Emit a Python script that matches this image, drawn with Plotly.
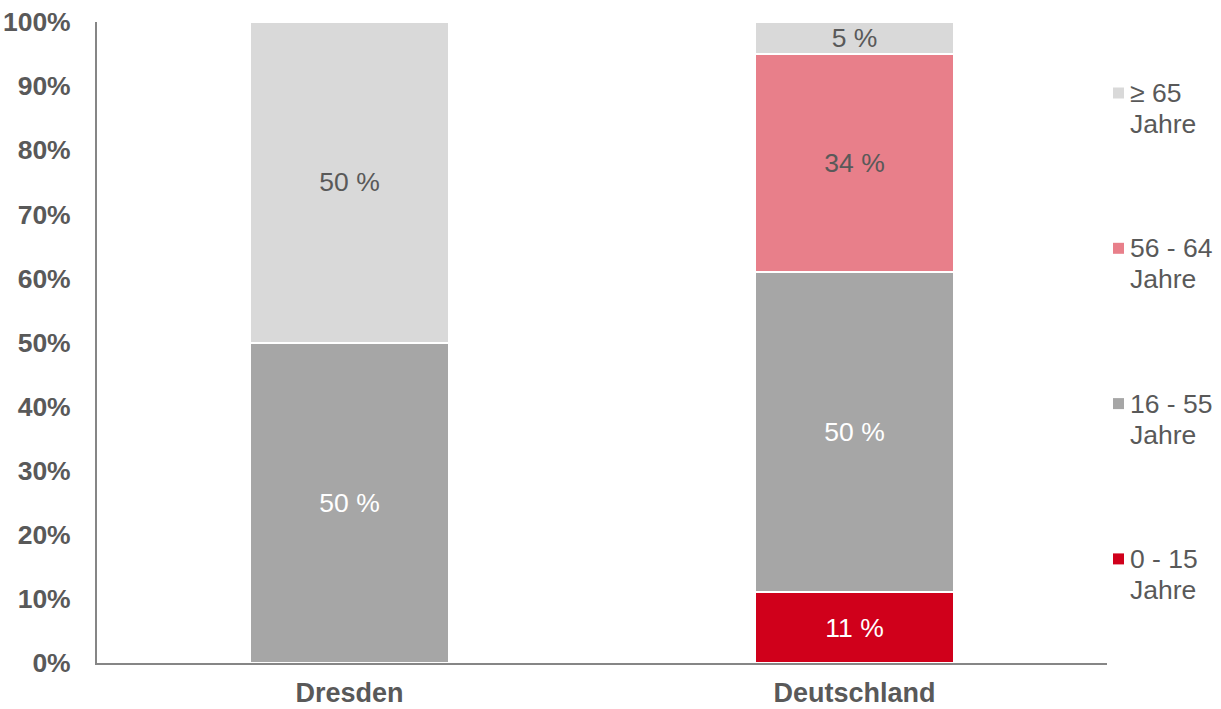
import plotly.graph_objects as go

categories = ["Dresden", "Deutschland"]
series_names = ["0 - 15", "16 - 55", "56 - 64", "≥ 65"]
series_unit = "Jahre"
val_0_15 = [None, 11]
val_16_55 = [50, 50]
val_56_64 = [None, 34]
val_65 = [50, 5]
y_ticks = [0, 10, 20, 30, 40, 50, 60, 70, 80, 90, 100]
y_tick_labels = [f"{v}%" for v in y_ticks]

colors = ["#D0001B", "#A6A6A6", "#E87F8A", "#D9D9D9"]
text_colors = ["white", "white", "#595959", "#595959"]
values = [val_0_15, val_16_55, val_56_64, val_65]

FONT = "Liberation Sans, Arial, sans-serif"
FS = 26.5
TXT = "#595959"

W, H = 1221, 709
ML, MR, MT, MB = 97, 114, 22, 46
PW, PH = W - ML - MR, H - MT - MB

def px_x(px):
    return (px - ML) / PW

def px_y(py):
    return (H - MB - py) / PH

fig = go.Figure()
for name, vals, col, tcol in zip(series_names, values, colors, text_colors):
    fig.add_trace(go.Bar(
        x=categories, y=vals, name=f"{name} {series_unit}",
        marker=dict(color=col, line=dict(color="white", width=2)),
        text=[("" if v is None else f"{v} %") for v in vals],
        textposition="inside", insidetextanchor="middle",
        textfont=dict(size=FS, color=tcol, family=FONT),
        constraintext="none",
        showlegend=False,
    ))

# custom legend (top entry = last series), matching the reference layout
annotations = []
shapes = []
first_line_y = 91
entry_step = 155.3
line_gap = 31
for k, idx in enumerate(reversed(range(len(series_names)))):
    cy = first_line_y + k * entry_step
    shapes.append(dict(
        type="rect", xref="paper", yref="paper",
        x0=px_x(1113), x1=px_x(1124), y0=px_y(cy - 3.5), y1=px_y(cy + 7.5),
        fillcolor=colors[idx], line=dict(width=0),
    ))
    for j, line in enumerate([series_names[idx], series_unit]):
        annotations.append(dict(
            text=line, xref="paper", yref="paper",
            x=px_x(1128), y=px_y(cy + j * line_gap + 2),
            xanchor="left", yanchor="middle", showarrow=False,
            font=dict(size=FS, color=TXT, family=FONT),
        ))

fig.update_layout(
    barmode="stack",
    bargap=0.604,
    width=W, height=H,
    margin=dict(l=ML, r=MR, t=MT, b=MB),
    paper_bgcolor="white", plot_bgcolor="white",
    font=dict(family=FONT, color=TXT, size=FS),
    showlegend=False,
    annotations=annotations,
    shapes=shapes,
    xaxis=dict(
        showline=True, linecolor="#868686", linewidth=2,
        tickfont=dict(size=27, color=TXT, family=FONT, weight="bold"),
        ticklabelstandoff=5,
        ticklabeloverflow="allow",
        automargin=False,
        showgrid=False,
    ),
    yaxis=dict(
        range=[0, 100], tickmode="array", tickvals=y_ticks, ticktext=y_tick_labels,
        showline=True, linecolor="#868686", linewidth=2,
        showgrid=False, zeroline=False,
        tickfont=dict(size=FS, color=TXT, family=FONT, weight="bold"),
        ticklabelstandoff=19,
        ticklabeloverflow="allow",
        automargin=False,
    ),
)

fig.write_html(
    "out.html",
    config={"displayModeBar": False},
    post_script="document.body.style.margin='0';document.body.style.overflow='hidden';",
)
